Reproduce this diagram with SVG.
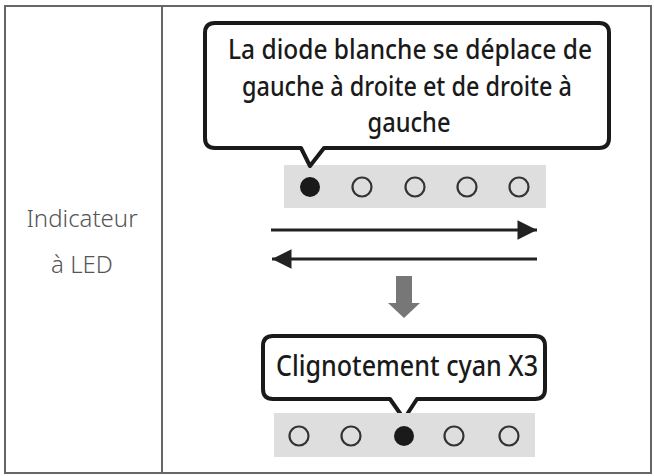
<svg xmlns="http://www.w3.org/2000/svg" width="654" height="476" viewBox="0 0 654 476">
<defs>
<style>
.frame{fill:none;stroke:#666;stroke-width:2}
.bubble{fill:#fff;stroke:#1a1a1a;stroke-width:4;stroke-linejoin:round}
.bar{fill:#dedede}
.on{fill:#1a1a1a}
.off{fill:none;stroke:#333;stroke-width:2.2}
.btxt{font-family:"Noto Sans","Open Sans",sans-serif;font-size:27px;font-weight:500;fill:#1a1a1a;text-anchor:middle}
.ltxt{font-family:"Noto Sans","Open Sans",sans-serif;font-size:24px;font-weight:300;fill:#555;text-anchor:middle}
.line{stroke:#222;stroke-width:3;fill:none}
</style>
<marker id="ah" viewBox="0 0 10 10" refX="10" refY="5" markerWidth="8.5" markerHeight="6.5" markerUnits="strokeWidth" orient="auto-start-reverse">
<path d="M0,0 L10,5 L0,10 z" fill="#222"/>
</marker>
</defs>
<rect width="654" height="476" fill="#fff"/>
<g id="table">
<rect class="frame" x="5" y="6" width="646" height="467"/>
<line class="frame" x1="162" y1="6" x2="162" y2="473"/>
</g>
<g id="label">
<text class="ltxt" x="82" y="227">Indicateur</text>
<text class="ltxt" x="82" y="273">à LED</text>
</g>
<g id="bar1">
<rect class="bar" x="284" y="165" width="262" height="43"/>
<circle class="on" cx="310" cy="187" r="10"/>
<circle class="off" cx="362" cy="187" r="9.5"/>
<circle class="off" cx="415" cy="187" r="9.5"/>
<circle class="off" cx="467" cy="187" r="9.5"/>
<circle class="off" cx="519" cy="187" r="9.5"/>
</g>
<g id="bubble1">
<path class="bubble" d="M215,23 H599 Q609,23 609,33 V138 Q609,148 599,148 H324 L310,166 L301,148 H215 Q205,148 205,138 V33 Q205,23 215,23 Z"/>
<text class="btxt" x="410" y="59" textLength="364" lengthAdjust="spacingAndGlyphs">La diode blanche se déplace de</text>
<text class="btxt" x="407" y="96" textLength="330" lengthAdjust="spacingAndGlyphs">gauche à droite et de droite à</text>
<text class="btxt" x="409" y="132" textLength="83" lengthAdjust="spacingAndGlyphs">gauche</text>
</g>
<g id="connectors">
<line class="line" x1="271" y1="230" x2="537" y2="230" marker-end="url(#ah)"/>
<line class="line" x1="537" y1="259" x2="272" y2="259" marker-end="url(#ah)"/>
<path d="M396,276 H412 V303 H420 L404,318 L388,303 H396 Z" fill="#777"/>
</g>
<g id="bubble2">
<path class="bubble" d="M273,336 H535 Q545,336 545,346 V389 Q545,399 535,399 H417 L404,419 L390,399 H273 Q263,399 263,389 V346 Q263,336 273,336 Z"/>
<text class="btxt" x="407" y="376" textLength="262" lengthAdjust="spacingAndGlyphs" style="font-size:29px">Clignotement cyan X3</text>
</g>
<g id="bar2">
<rect class="bar" x="274" y="413" width="261" height="44"/>
<circle class="off" cx="299" cy="436" r="9.5"/>
<circle class="off" cx="351" cy="436" r="9.5"/>
<circle class="on" cx="404" cy="436" r="10"/>
<circle class="off" cx="454" cy="436" r="9.5"/>
<circle class="off" cx="509" cy="436" r="9.5"/>
</g>
</svg>
